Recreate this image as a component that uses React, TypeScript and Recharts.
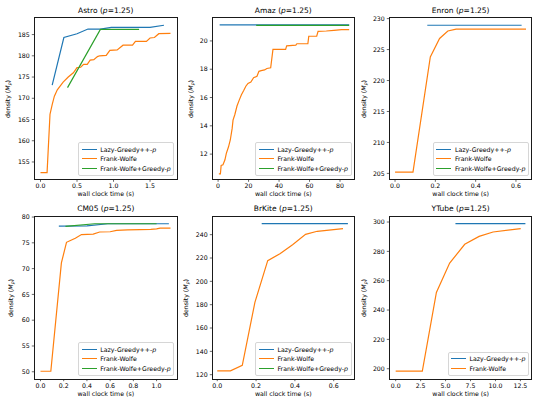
import React from 'react'
import { LineChart, Line, XAxis, YAxis } from 'recharts'

type Pt = [number, number]

// series values: [wall clock time (s), density]
const astroLazy: Pt[] = [[0.16, 173.1], [0.32, 184.3], [0.5, 185.2], [0.65, 186.3], [0.82, 186.3], [0.97, 186.7], [1.5, 186.7], [1.69, 187.2]]
const astroFW: Pt[] = [
  [0, 152.5], [0.09, 152.5], [0.13, 166.2], [0.16, 168.5], [0.19, 170.5], [0.23, 172], [0.31, 173.8], [0.38, 175],
  [0.45, 176], [0.5, 177.2], [0.55, 177.3], [0.59, 178], [0.64, 178], [0.68, 179], [0.73, 179.1], [0.78, 179.8],
  [0.81, 180], [0.9, 180.1], [0.95, 181.3], [1.05, 181.4], [1.13, 182.5], [1.26, 182.5], [1.3, 183.4], [1.45, 183.4],
  [1.5, 184.2], [1.56, 184.3], [1.62, 185.2], [1.78, 185.3],
]
const astroFWG: Pt[] = [[0.37, 172.5], [0.82, 186.2], [1.35, 186.2]]

const amazLazy: Pt[] = [[1, 21.13], [86, 21.13]]
const amazFW: Pt[] = [
  [0.5, 10.6], [1.5, 10.6], [2, 11.2], [3.2, 11.25], [4.5, 11.6], [5.4, 12.05], [6.8, 12.5], [8, 13], [9.2, 13.8],
  [9.8, 14.4], [11, 14.8], [12.4, 15.4], [13.8, 15.8], [15.3, 16.2], [16.8, 16.5], [18.2, 16.8], [19.6, 17],
  [21.5, 17.1], [23.3, 17.4], [25.5, 17.5], [26.8, 17.85], [28.3, 17.9], [30.5, 17.95], [32, 18.05], [34.5, 18.1],
  [36, 19.4], [44.3, 19.4], [45, 19.65], [51, 19.7], [51.7, 19.8], [58.9, 19.8], [59.5, 20.33], [64.7, 20.33],
  [65.6, 20.68], [71, 20.7], [76, 20.75], [81, 20.8], [86, 20.8],
]
const amazFWG: Pt[] = [[25, 21.1], [86, 21.1]]

const enronLazy: Pt[] = [[0.16, 228.93], [0.628, 228.93]]
const enronFW: Pt[] = [[0, 205.2], [0.089, 205.2], [0.175, 223.8], [0.221, 226.8], [0.262, 228], [0.303, 228.3], [0.65, 228.3]]
const enronFWG: Pt[] = []

const cm05Lazy: Pt[] = [[0.158, 78.25], [0.4, 78.3], [0.58, 78.7], [1.106, 78.7]]
const cm05FW: Pt[] = [
  [0, 50.1], [0.089, 50.1], [0.18, 71.1], [0.224, 75.1], [0.253, 75.4], [0.3, 75.9], [0.353, 76.6], [0.454, 76.7],
  [0.51, 77.1], [0.6, 77.15], [0.655, 77.4], [0.75, 77.5], [0.856, 77.55], [0.95, 77.6], [1.0, 77.7], [1.03, 77.85], [1.12, 77.85],
]
const cm05FWG: Pt[] = [[0.215, 78.2], [0.468, 78.7], [1.0, 78.7]]

const brkiteLazy: Pt[] = [[0.229, 249.4], [0.673, 249.4]]
const brkiteFW: Pt[] = [
  [0, 123.3], [0.068, 123.3], [0.129, 128], [0.194, 182], [0.26, 217.7], [0.323, 223.7], [0.388, 231.4],
  [0.455, 240.3], [0.515, 242.9], [0.648, 245.1],
]
const brkiteFWG: Pt[] = []

const ytubeLazy: Pt[] = [[5.99, 298.9], [13.0, 298.9]]
const ytubeFW: Pt[] = [[0, 198.4], [2.67, 198.4], [4.08, 252], [5.41, 272], [6.92, 284.8], [8.36, 290.2], [9.76, 293.2], [12.53, 295.5]]

// tick values
const astroXTicks = [0, 0.5, 1.0, 1.5]
const astroYTicks = [155, 160, 165, 170, 175, 180, 185]
const amazXTicks = [0, 20, 40, 60, 80]
const amazYTicks = [12, 14, 16, 18, 20]
const enronXTicks = [0, 0.2, 0.4, 0.6]
const enronYTicks = [205, 210, 215, 220, 225, 230]
const cm05XTicks = [0, 0.2, 0.4, 0.6, 0.8, 1.0]
const cm05YTicks = [50, 55, 60, 65, 70, 75, 80]
const brkiteXTicks = [0, 0.2, 0.4, 0.6]
const brkiteYTicks = [120, 140, 160, 180, 200, 220, 240]
const ytubeXTicks = [0, 2.5, 5, 7.5, 10, 12.5]
const ytubeYTicks = [200, 220, 240, 260, 280, 300]

const BLUE = '#1f77b4'
const ORANGE = '#ff7f0e'
const GREEN = '#2ca02c'
const FONT = '"DejaVu Sans", sans-serif'
const FS = 6.25

interface Box { x: number; y: number; w: number; h: number }

interface PanelProps {
  name: string
  box: Box
  xDomain: [number, number]
  xTicks: number[]
  xDigits: number
  yDomain: [number, number]
  yTicks: number[]
  lazy: Pt[]
  fw: Pt[]
  fwg?: Pt[]
  yLabelGap: number
}

const toRows = (pts: Pt[]) => pts.map(([t, v]) => ({ t, v }))

const YW = 40
const MT = 4
const MR = 4
const XH = 24
const LW = 1.2

function Legend({ box, withGreen }: { box: Box; withGreen: boolean }) {
  const items: { color: string; label: React.ReactNode }[] = [
    { color: BLUE, label: <>Lazy-Greedy++-<i>p</i></> },
    { color: ORANGE, label: 'Frank-Wolfe' },
  ]
  if (withGreen) items.push({ color: GREEN, label: <>Frank-Wolfe+Greedy-<i>p</i></> })
  return (
    <div
      style={{
        position: 'absolute',
        right: 540 - (box.x + box.w) + 3,
        bottom: 405 - (box.y + box.h) + 3,
        background: 'rgba(255,255,255,0.8)',
        border: '1px solid #d6d6d6',
        borderRadius: 2,
        padding: '1px 2.5px 2px 2.5px',
        fontSize: FS,
        fontFamily: FONT,
        color: '#000',
      }}
    >
      {items.map((it, i) => (
        <div key={i} style={{ display: 'flex', alignItems: 'center', height: 9.7, whiteSpace: 'nowrap' }}>
          <span style={{ display: 'inline-block', width: 15, borderTop: `1.5px solid ${it.color}`, marginRight: 3.5 }} />
          <span>{it.label}</span>
        </div>
      ))}
    </div>
  )
}

function Panel(p: PanelProps) {
  const { box } = p
  const tick = { fontSize: FS, fill: '#000', fontFamily: FONT }
  const tickLine = { stroke: '#000', strokeWidth: 0.6 }
  return (
    <>
      <div style={{ position: 'absolute', left: box.x - YW, top: box.y - MT }}>
        <LineChart width={box.w + YW + MR} height={box.h + MT + XH} margin={{ top: MT, right: MR, bottom: 0, left: 0 }}>
          <XAxis
            type="number"
            dataKey="t"
            domain={p.xDomain}
            ticks={p.xTicks}
            interval={0}
            allowDataOverflow
            height={XH}
            axisLine={false}
            tickLine={tickLine}
            tickSize={2.2}
            tickMargin={2}
            tick={tick}
            tickFormatter={(v: number) => v.toFixed(p.xDigits)}
          />
          <YAxis
            type="number"
            domain={p.yDomain}
            ticks={p.yTicks}
            interval={0}
            allowDataOverflow
            width={YW}
            axisLine={false}
            tickLine={tickLine}
            tickSize={2.2}
            tickMargin={2}
            tick={tick}
          />
          <Line data={toRows(p.lazy)} dataKey="v" stroke={BLUE} strokeWidth={LW} dot={false} isAnimationActive={false} />
          <Line data={toRows(p.fw)} dataKey="v" stroke={ORANGE} strokeWidth={LW} dot={false} isAnimationActive={false} />
          {p.fwg && p.fwg.length > 0 && (
            <Line data={toRows(p.fwg)} dataKey="v" stroke={GREEN} strokeWidth={LW} dot={false} isAnimationActive={false} />
          )}
        </LineChart>
      </div>
      {/* axes frame */}
      <div
        style={{
          position: 'absolute',
          left: box.x - 0.5,
          top: box.y - 0.5,
          width: box.w + 1,
          height: box.h + 1,
          border: '1px solid #1a1a1a',
          boxSizing: 'border-box',
          pointerEvents: 'none',
        }}
      />
      <div
        style={{
          position: 'absolute',
          left: box.x + box.w / 2,
          top: box.y - 7,
          transform: 'translate(-50%, -50%)',
          fontSize: 7.5,
          lineHeight: 1,
          whiteSpace: 'nowrap',
        }}
      >
        {p.name} (<i>p</i>=1.25)
      </div>
      <div
        style={{
          position: 'absolute',
          left: box.x + box.w / 2,
          top: box.y + box.h + 15,
          transform: 'translate(-50%, -50%)',
          fontSize: FS,
          lineHeight: 1,
          whiteSpace: 'nowrap',
        }}
      >
        wall clock time (s)
      </div>
      <div
        style={{
          position: 'absolute',
          left: box.x - p.yLabelGap,
          top: box.y + box.h / 2,
          transform: 'translate(-50%, -50%) rotate(-90deg)',
          fontSize: FS,
          lineHeight: 1,
          whiteSpace: 'nowrap',
        }}
      >
        density (<i>M</i><sub style={{ fontSize: 4.5, verticalAlign: -1.2 }}><i>p</i></sub>)
      </div>
      <Legend box={box} withGreen={p.fwg !== undefined} />
    </>
  )
}

export default function App() {
  const r1 = { y: 17.7, h: 161.6 }
  const r2 = { y: 216.3, h: 163 }
  const c1 = { x: 34.3, w: 143 }
  const c2 = { x: 212, w: 142.5 }
  const c3 = { x: 389.3, w: 142.7 }
  return (
    <div
      style={{
        position: 'fixed',
        left: 0,
        top: 0,
        width: 540,
        height: 405,
        background: '#fff',
        fontFamily: FONT,
        color: '#000',
        overflow: 'hidden',
      }}
    >
      <Panel name="Astro" box={{ ...c1, ...r1 }} xDomain={[-0.089, 1.869]} xTicks={astroXTicks} xDigits={1}
        yDomain={[150.85, 188.9]} yTicks={astroYTicks} lazy={astroLazy} fw={astroFW} fwg={astroFWG} yLabelGap={25} />
      <Panel name="Amaz" box={{ ...c2, ...r1 }} xDomain={[-4, 89.5]} xTicks={amazXTicks} xDigits={0}
        yDomain={[10.2, 21.62]} yTicks={amazYTicks} lazy={amazLazy} fw={amazFW} fwg={amazFWG} yLabelGap={20} />
      <Panel name="Enron" box={{ ...c3, ...r1 }} xDomain={[-0.03, 0.678]} xTicks={enronXTicks} xDigits={1}
        yDomain={[204.0, 230.1]} yTicks={enronYTicks} lazy={enronLazy} fw={enronFW} fwg={enronFWG} yLabelGap={24} />
      <Panel name="CM05" box={{ ...c1, ...r2 }} xDomain={[-0.056, 1.176]} xTicks={cm05XTicks} xDigits={1}
        yDomain={[48.6, 80.2]} yTicks={cm05YTicks} lazy={cm05Lazy} fw={cm05FW} fwg={cm05FWG} yLabelGap={22} />
      <Panel name="BrKite" box={{ ...c2, ...r2 }} xDomain={[-0.027, 0.707]} xTicks={brkiteXTicks} xDigits={1}
        yDomain={[116.3, 256]} yTicks={brkiteYTicks} lazy={brkiteLazy} fw={brkiteFW} fwg={brkiteFWG} yLabelGap={25} />
      <Panel name="YTube" box={{ ...c3, ...r2 }} xDomain={[-0.67, 13.63]} xTicks={ytubeXTicks} xDigits={1}
        yDomain={[193, 304.1]} yTicks={ytubeYTicks} lazy={ytubeLazy} fw={ytubeFW} yLabelGap={24} />
    </div>
  )
}
